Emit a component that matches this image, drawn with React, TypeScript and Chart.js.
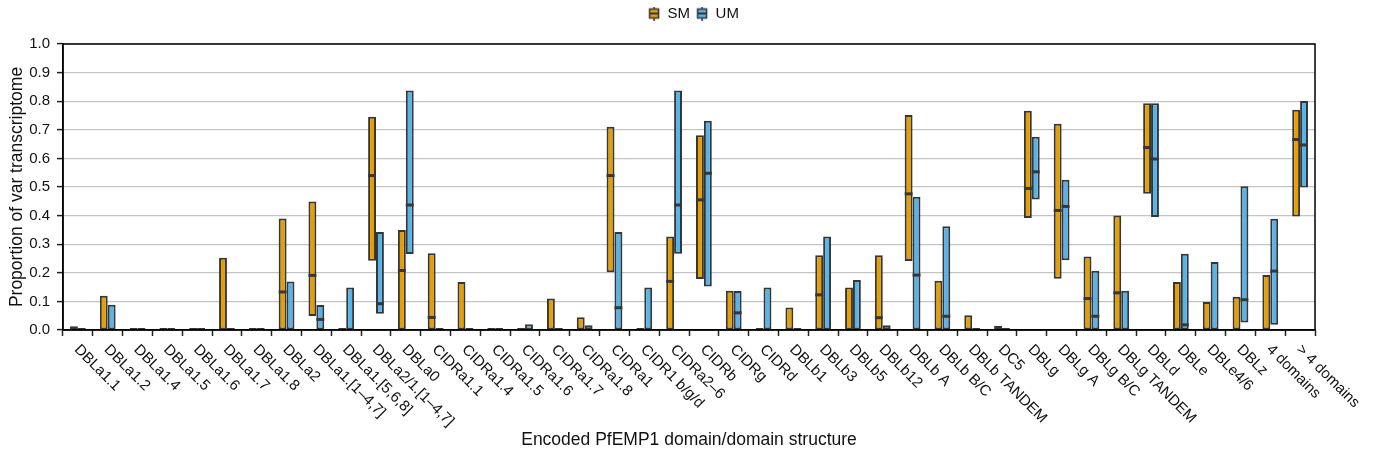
import React, { useEffect, useRef } from "react";
import { Chart, registerables } from "chart.js";

Chart.register(...registerables);

const categories = [
  "DBLa1.1", "DBLa1.2", "DBLa1.4", "DBLa1.5", "DBLa1.6", "DBLa1.7", "DBLa1.8", "DBLa2",
  "DBLa1.[1\u20134,7]", "DBLa1.[5,6,8]", "DBLa2/1.[1\u20134,7]", "DBLa0",
  "CIDRa1.1", "CIDRa1.4", "CIDRa1.5", "CIDRa1.6", "CIDRa1.7", "CIDRa1.8", "CIDRa1",
  "CIDR1 b/g/d", "CIDRa2\u20136", "CIDRb", "CIDRg", "CIDRd",
  "DBLb1", "DBLb3", "DBLb5", "DBLb12", "DBLb A", "DBLb B/C", "DBLb TANDEM", "DC5",
  "DBLg", "DBLg A", "DBLg B/C", "DBLg TANDEM", "DBLd", "DBLe", "DBLe4/6", "DBLz",
  "4 domains", "> 4 domains",
];

// SM (severe malaria): low, high, median
const smLow = [
  0, 0, 0, 0, 0, 0, 0, 0, 0.049, 0, 0.242, 0,
  0, 0, 0, 0, 0, 0, 0.202, 0, 0, 0.178, 0, 0,
  0, 0, 0, 0, 0.241, 0, 0, 0,
  0.392, 0.179, 0, 0, 0.476, 0, 0, 0,
  0, 0.397,
];
const smHigh = [
  0.013, 0.12, 0, 0, 0, 0.253, 0, 0.39, 0.449, 0, 0.746, 0.35,
  0.268, 0.168, 0, 0, 0.11, 0.045, 0.711, 0, 0.327, 0.681, 0.137, 0,
  0.079, 0.261, 0.149, 0.261, 0.752, 0.172, 0.052, 0.015,
  0.767, 0.721, 0.257, 0.4, 0.793, 0.168, 0.098, 0.116,
  0.192, 0.77,
];
const smMedian: (number | null)[] = [
  null, null, null, null, null, null, null, 0.133, 0.191, null, 0.54, 0.208,
  0.044, null, null, null, null, null, 0.54, null, 0.17, 0.455, null, null,
  null, 0.123, null, 0.043, 0.476, null, null, null,
  0.495, 0.418, 0.11, 0.13, 0.638, null, null, null,
  null, 0.666,
];

// UM (uncomplicated malaria): low, high, median
const umLow = [
  0, 0, 0, 0, 0, 0, 0, 0, 0, 0, 0.057, 0.266,
  0, 0, 0, 0, 0, 0, 0, 0, 0.267, 0.152, 0, 0,
  0, 0, 0, 0, 0, 0, 0, 0,
  0.456, 0.244, 0, 0, 0.395, 0, 0, 0.026,
  0.018, 0.498,
];
const umHigh = [
  0.002, 0.088, 0, 0, 0, 0, 0, 0.17, 0.087, 0.149, 0.343, 0.837,
  0, 0, 0, 0.02, 0, 0.017, 0.343, 0.149, 0.837, 0.732, 0.136, 0.149,
  0, 0.327, 0.175, 0.017, 0.466, 0.363, 0, 0.002,
  0.676, 0.525, 0.207, 0.137, 0.793, 0.267, 0.238, 0.503,
  0.389, 0.801,
];
const umMedian: (number | null)[] = [
  null, null, null, null, null, null, null, null, 0.037, null, 0.092, 0.437,
  null, null, null, null, null, null, 0.078, null, 0.437, 0.548, 0.06, null,
  null, null, null, null, 0.192, 0.048, null, null,
  0.553, 0.432, 0.048, null, 0.598, 0.018, null, 0.106,
  0.206, 0.647,
];

const yTicks = [0, 0.1, 0.2, 0.3, 0.4, 0.5, 0.6, 0.7, 0.8, 0.9, 1.0];

const SM_COLOR = "#E69F00";
const UM_COLOR = "#56B4E9";
const EDGE = "#363636";
const FONT = "'Liberation Sans', Arial, Helvetica, sans-serif";

function legendIcon(fill: string): HTMLCanvasElement {
  const c = document.createElement("canvas");
  c.width = 12;
  c.height = 14;
  const ctx = c.getContext("2d")!;
  ctx.strokeStyle = EDGE;
  ctx.lineWidth = 1.5;
  ctx.beginPath();
  ctx.moveTo(6, 0);
  ctx.lineTo(6, 14);
  ctx.stroke();
  ctx.fillStyle = fill;
  ctx.fillRect(1.5, 2.5, 9, 9);
  ctx.strokeRect(1.5, 2.5, 9, 9);
  ctx.lineWidth = 2;
  ctx.beginPath();
  ctx.moveTo(1.5, 7);
  ctx.lineTo(10.5, 7);
  ctx.stroke();
  return c;
}

const legendSpacing = {
  id: "legendSpacing",
  beforeInit(chart: any) {
    const legend = chart.legend;
    if (!legend) return;
    const orig = legend.fit;
    legend.fit = function () {
      orig.call(this);
      this.height += 13;
    };
  },
  afterLayout(chart: any) {
    const legend = chart.legend;
    if (!legend) return;
    legend.left += 36;
    legend.right += 36;
  },
};

const mediansPlugin = {
  id: "medians",
  afterDatasetsDraw(chart: any) {
    const ctx = chart.ctx;
    const y = chart.scales.y;
    const sets = [smMedian, umMedian];
    ctx.save();
    ctx.strokeStyle = EDGE;
    ctx.lineWidth = 3;
    sets.forEach((med, di) => {
      const meta = chart.getDatasetMeta(di);
      meta.data.forEach((bar: any, i: number) => {
        const v = med[i];
        if (v === null || v === undefined) return;
        const py = y.getPixelForValue(v);
        const w = bar.width;
        ctx.beginPath();
        ctx.moveTo(bar.x - w / 2, py);
        ctx.lineTo(bar.x + w / 2, py);
        ctx.stroke();
      });
    });
    ctx.restore();
  },
};

const frameAndLabelsPlugin = {
  id: "frameAndLabels",
  afterDraw(chart: any) {
    const ctx = chart.ctx;
    const a = chart.chartArea;
    ctx.save();
    ctx.strokeStyle = "#000";
    ctx.lineWidth = 1.5;
    ctx.strokeRect(a.left, a.top, a.right - a.left, a.bottom - a.top);
    const x = chart.scales.x;
    ctx.fillStyle = "#111";
    ctx.font = `15px ${FONT}`;
    ctx.textAlign = "left";
    ctx.textBaseline = "top";
    categories.forEach((lab, i) => {
      const px = x.getPixelForTick(i);
      ctx.save();
      ctx.translate(px + 4, a.bottom + 12);
      ctx.rotate(Math.PI / 4);
      ctx.fillText(lab, 0, 0);
      ctx.restore();
    });
    ctx.restore();
  },
};

export default function App() {
  const ref = useRef<HTMLCanvasElement>(null);
  useEffect(() => {
    document.body.style.margin = "0";
    const canvas = ref.current!;
    const chart = new Chart(canvas, {
      type: "bar",
      data: {
        labels: categories,
        datasets: [
          {
            label: "SM",
            data: categories.map((_, i) => [smLow[i], smHigh[i]]) as any,
            backgroundColor: SM_COLOR,
            borderColor: EDGE,
            borderWidth: 2,
            borderSkipped: false,
            minBarLength: 2,
            categoryPercentage: 0.53,
            barPercentage: 1.0,
            pointStyle: legendIcon(SM_COLOR) as any,
          },
          {
            label: "UM",
            data: categories.map((_, i) => [umLow[i], umHigh[i]]) as any,
            backgroundColor: UM_COLOR,
            borderColor: EDGE,
            borderWidth: 2,
            borderSkipped: false,
            minBarLength: 2,
            categoryPercentage: 0.53,
            barPercentage: 1.0,
            pointStyle: legendIcon(UM_COLOR) as any,
          },
        ],
      },
      options: {
        animation: false,
        responsive: true,
        maintainAspectRatio: false,
        layout: { padding: { left: 0, right: 58, top: 0, bottom: 0 } },
        plugins: {
          legend: {
            position: "top",
            labels: {
              usePointStyle: true,
              boxWidth: 12,
              boxHeight: 14,
              padding: 6,
              color: "#111",
              font: { family: FONT, size: 15 },
            },
          },
          tooltip: { enabled: false },
        },
        scales: {
          x: {
            grid: {
              display: true,
              drawOnChartArea: false,
              tickLength: 6,
              tickColor: "#222",
              tickWidth: 1.5,
            },
            border: { color: "#000", width: 1.5 },
            ticks: { display: false },
            title: {
              display: true,
              text: "Encoded PfEMP1 domain/domain structure",
              color: "#111",
              font: { family: FONT, size: 17.5 },
              padding: { top: 0, bottom: 7 },
            },
            afterFit(scale: any) {
              scale.height = 128;
            },
          },
          y: {
            min: 0,
            max: 1,
            ticks: {
              stepSize: 0.05,
              color: "#111",
              font: { family: FONT, size: 15 },
              padding: 7,
              callback: (v: any) => {
                const n = Number(v);
                const hit = yTicks.find((t) => Math.abs(t - n) < 1e-6);
                return hit !== undefined ? hit.toFixed(1) : "";
              },
            },
            grid: {
              color: (c: any) => {
                const n = c.tick ? c.tick.value : 0;
                const major = yTicks.some((t) => Math.abs(t - n) < 1e-6);
                return major ? "#c4c4c4" : "#f2f2f2";
              },
              lineWidth: 1.2,
              tickLength: 6,
              tickColor: (c: any) => {
                const n = c.tick ? c.tick.value : 0;
                const major = yTicks.some((t) => Math.abs(t - n) < 1e-6);
                return major ? "#222" : "rgba(0,0,0,0)";
              },
              tickWidth: 1.5,
            },
            border: { color: "#000", width: 1.5 },
            title: {
              display: true,
              text: "Proportion of var transcriptome",
              color: "#111",
              font: { family: FONT, size: 17.5 },
              padding: { top: 7, bottom: 2 },
            },
            afterFit(scale: any) {
              scale.width = 63;
            },
          },
        },
      },
      plugins: [legendSpacing, mediansPlugin, frameAndLabelsPlugin],
    });
    return () => chart.destroy();
  }, []);
  return (
    <div style={{ position: "relative", width: "1373px", height: "458px" }}>
      <canvas ref={ref} />
    </div>
  );
}
